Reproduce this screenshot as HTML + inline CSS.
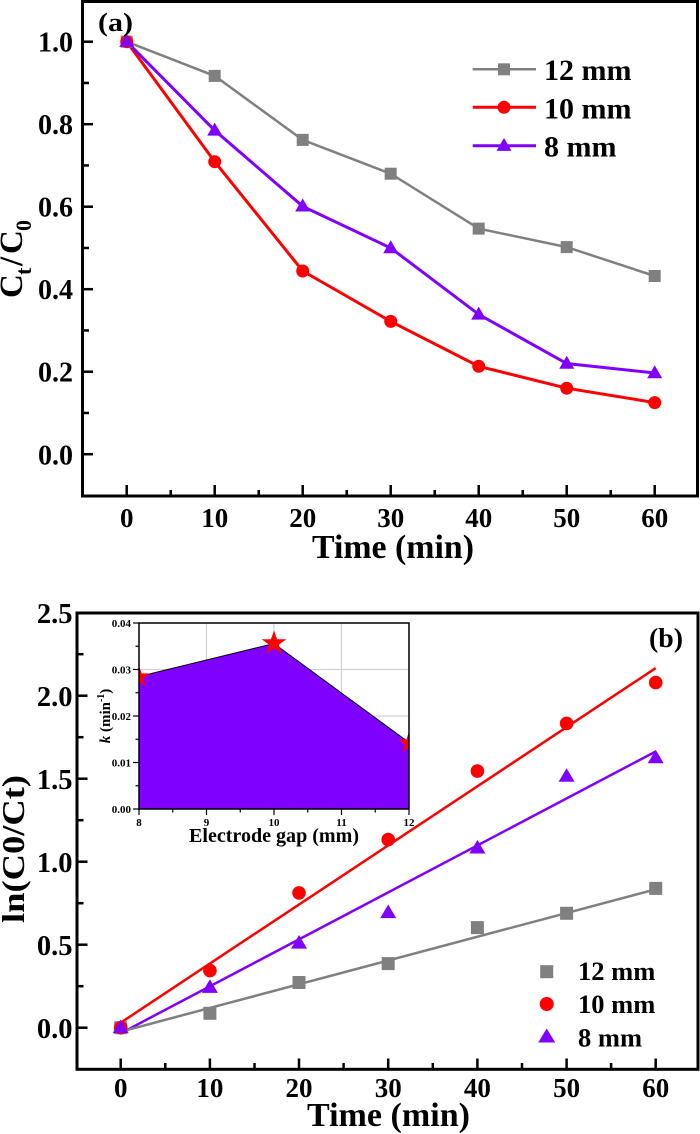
<!DOCTYPE html>
<html><head><meta charset="utf-8"><style>
html,body{margin:0;padding:0;background:#fff;}
svg{display:block;}
text{font-family:"Liberation Serif","Times New Roman",serif;font-weight:bold;fill:#000;}
</style></head><body>
<svg width="700" height="1134" viewBox="0 0 700 1134" xmlns="http://www.w3.org/2000/svg">
<defs>
<clipPath id="insetClip"><rect x="139" y="623" width="270" height="186"/></clipPath>
</defs>

<!-- ============ TOP CHART (a) ============ -->
<g>
<polyline fill="none" stroke="#808080" stroke-width="2.5" points="126.7,41.7 214.7,75.9 302.7,139.9 390.7,173.7 478.7,228.6 566.7,247.1 654.7,276.0"/>
<polyline fill="none" stroke="#FF0000" stroke-width="3" points="126.7,41.7 214.7,161.7 302.7,271.0 390.7,321.4 478.7,366.3 566.7,388.2 654.7,402.6"/>
<polyline fill="none" stroke="#8000FF" stroke-width="3" points="126.7,41.7 214.7,130.4 302.7,206.3 390.7,248.0 478.7,314.4 566.7,363.5 654.7,373.0"/>
<g fill="#808080">
<rect x="120.7" y="35.7" width="12" height="12"/>
<rect x="208.7" y="69.9" width="12" height="12"/>
<rect x="296.7" y="133.9" width="12" height="12"/>
<rect x="384.7" y="167.7" width="12" height="12"/>
<rect x="472.7" y="222.6" width="12" height="12"/>
<rect x="560.7" y="241.1" width="12" height="12"/>
<rect x="648.7" y="270.0" width="12" height="12"/>
</g>
<g fill="#FF0000">
<circle cx="126.7" cy="41.7" r="6.5"/>
<circle cx="214.7" cy="161.7" r="6.5"/>
<circle cx="302.7" cy="271.0" r="6.5"/>
<circle cx="390.7" cy="321.4" r="6.5"/>
<circle cx="478.7" cy="366.3" r="6.5"/>
<circle cx="566.7" cy="388.2" r="6.5"/>
<circle cx="654.7" cy="402.6" r="6.5"/>
</g>
<g fill="#8000FF">
<polygon points="126.7,33.9 119.2,46.9 134.2,46.9"/>
<polygon points="214.7,122.6 207.2,135.6 222.2,135.6"/>
<polygon points="302.7,198.5 295.2,211.5 310.2,211.5"/>
<polygon points="390.7,240.2 383.2,253.2 398.2,253.2"/>
<polygon points="478.7,306.6 471.2,319.6 486.2,319.6"/>
<polygon points="566.7,355.7 559.2,368.7 574.2,368.7"/>
<polygon points="654.7,365.2 647.2,378.2 662.2,378.2"/>
</g>

<rect x="82.5" y="1.5" width="615" height="494.5" fill="none" stroke="#000" stroke-width="3"/>
<g stroke="#000" stroke-width="2.5">
<line x1="82.5" y1="41.7" x2="93" y2="41.7"/>
<line x1="82.5" y1="124.2" x2="93" y2="124.2"/>
<line x1="82.5" y1="206.7" x2="93" y2="206.7"/>
<line x1="82.5" y1="289.2" x2="93" y2="289.2"/>
<line x1="82.5" y1="371.7" x2="93" y2="371.7"/>
<line x1="82.5" y1="454.2" x2="93" y2="454.2"/>
<line x1="82.5" y1="82.95" x2="89" y2="82.95"/>
<line x1="82.5" y1="165.45" x2="89" y2="165.45"/>
<line x1="82.5" y1="247.95" x2="89" y2="247.95"/>
<line x1="82.5" y1="330.45" x2="89" y2="330.45"/>
<line x1="82.5" y1="412.95" x2="89" y2="412.95"/>
<line x1="126.7" y1="496" x2="126.7" y2="485"/>
<line x1="214.7" y1="496" x2="214.7" y2="485"/>
<line x1="302.7" y1="496" x2="302.7" y2="485"/>
<line x1="390.7" y1="496" x2="390.7" y2="485"/>
<line x1="478.7" y1="496" x2="478.7" y2="485"/>
<line x1="566.7" y1="496" x2="566.7" y2="485"/>
<line x1="654.7" y1="496" x2="654.7" y2="485"/>
<line x1="170.7" y1="496" x2="170.7" y2="490"/>
<line x1="258.7" y1="496" x2="258.7" y2="490"/>
<line x1="346.7" y1="496" x2="346.7" y2="490"/>
<line x1="434.7" y1="496" x2="434.7" y2="490"/>
<line x1="522.7" y1="496" x2="522.7" y2="490"/>
<line x1="610.7" y1="496" x2="610.7" y2="490"/>
</g>
<g font-size="28" text-anchor="end">
<text x="73" y="51.7">1.0</text>
<text x="73" y="134.2">0.8</text>
<text x="73" y="216.7">0.6</text>
<text x="73" y="299.2">0.4</text>
<text x="73" y="381.7">0.2</text>
<text x="73" y="464.5">0.0</text>
</g>
<g font-size="27" text-anchor="middle">
<text x="126.7" y="527">0</text>
<text x="214.7" y="527">10</text>
<text x="302.7" y="527">20</text>
<text x="390.7" y="527">30</text>
<text x="478.7" y="527">40</text>
<text x="566.7" y="527">50</text>
<text x="654.7" y="527">60</text>
</g>
<text x="312" y="558" font-size="34" textLength="162" lengthAdjust="spacingAndGlyphs">Time (min)</text>
<g transform="translate(22,298) rotate(-90)">
<text x="0" y="0" font-size="33">C</text>
<text x="23" y="9" font-size="22">t</text>
<text x="32" y="0" font-size="33">/</text>
<text x="44" y="0" font-size="33">C</text>
<text x="67" y="9" font-size="22">0</text>
</g>
<text x="98" y="31" font-size="26" textLength="35" lengthAdjust="spacingAndGlyphs">(a)</text>
<g>
<line x1="472.7" y1="69.3" x2="536" y2="69.3" stroke="#808080" stroke-width="2.5"/>
<rect x="498" y="63.3" width="12" height="12" fill="#808080"/>
<line x1="472.7" y1="107.3" x2="536" y2="107.3" stroke="#FF0000" stroke-width="3"/>
<circle cx="504" cy="107.3" r="6.5" fill="#FF0000"/>
<line x1="472.7" y1="145.7" x2="536" y2="145.7" stroke="#8000FF" stroke-width="3"/>
<polygon points="504,137.9 496.5,150.9 511.5,150.9" fill="#8000FF"/>
<g font-size="30">
<text x="544" y="80">12 mm</text>
<text x="544" y="118.3">10 mm</text>
<text x="544" y="156.7">8 mm</text>
</g>
</g>
</g>

<!-- ============ BOTTOM CHART (b) ============ -->
<g>
<line x1="120.7" y1="1022.7" x2="655.7" y2="668.1" stroke="#FF0000" stroke-width="2.5"/>
<line x1="120.7" y1="1033.3" x2="655.7" y2="751.5" stroke="#8000FF" stroke-width="2.5"/>
<line x1="120.7" y1="1031.7" x2="655.7" y2="889.3" stroke="#808080" stroke-width="2.5"/>
<g fill="#808080">
<rect x="114.2" y="1021.2" width="13" height="13"/>
<rect x="203.4" y="1006.8" width="13" height="13"/>
<rect x="292.5" y="976.0" width="13" height="13"/>
<rect x="381.7" y="957.1" width="13" height="13"/>
<rect x="470.9" y="921.1" width="13" height="13"/>
<rect x="560.1" y="906.8" width="13" height="13"/>
<rect x="649.2" y="881.9" width="13" height="13"/>
</g>
<g fill="#FF0000">
<circle cx="120.7" cy="1027.7" r="6.8"/>
<circle cx="209.9" cy="970.6" r="6.8"/>
<circle cx="299.0" cy="892.9" r="6.8"/>
<circle cx="388.2" cy="839.6" r="6.8"/>
<circle cx="477.4" cy="771.1" r="6.8"/>
<circle cx="566.6" cy="723.4" r="6.8"/>
<circle cx="655.7" cy="682.6" r="6.8"/>
</g>
<g fill="#8000FF">
<polygon points="120.7,1019.5 112.7,1033.1 128.7,1033.1"/>
<polygon points="209.9,979.3 201.9,992.9 217.9,992.9"/>
<polygon points="299.0,935.0 291.0,948.6 307.0,948.6"/>
<polygon points="388.2,904.5 380.2,918.1 396.2,918.1"/>
<polygon points="477.4,839.9 469.4,853.5 485.4,853.5"/>
<polygon points="566.6,768.2 558.6,781.8 574.6,781.8"/>
<polygon points="655.7,749.7 647.7,763.3 663.7,763.3"/>
</g>

<rect x="77" y="613" width="621" height="456.3" fill="none" stroke="#000" stroke-width="3"/>
<g stroke="#000" stroke-width="2.5">
<line x1="77" y1="1027.7" x2="87.5" y2="1027.7"/>
<line x1="77" y1="944.7" x2="87.5" y2="944.7"/>
<line x1="77" y1="861.7" x2="87.5" y2="861.7"/>
<line x1="77" y1="778.7" x2="87.5" y2="778.7"/>
<line x1="77" y1="695.7" x2="87.5" y2="695.7"/>
<line x1="77" y1="986.2" x2="83.5" y2="986.2"/>
<line x1="77" y1="903.2" x2="83.5" y2="903.2"/>
<line x1="77" y1="820.2" x2="83.5" y2="820.2"/>
<line x1="77" y1="737.2" x2="83.5" y2="737.2"/>
<line x1="77" y1="654.2" x2="83.5" y2="654.2"/>
<line x1="120.7" y1="1069.3" x2="120.7" y2="1058.5"/>
<line x1="209.9" y1="1069.3" x2="209.9" y2="1058.5"/>
<line x1="299.0" y1="1069.3" x2="299.0" y2="1058.5"/>
<line x1="388.2" y1="1069.3" x2="388.2" y2="1058.5"/>
<line x1="477.4" y1="1069.3" x2="477.4" y2="1058.5"/>
<line x1="566.6" y1="1069.3" x2="566.6" y2="1058.5"/>
<line x1="655.7" y1="1069.3" x2="655.7" y2="1058.5"/>
<line x1="165.3" y1="1069.3" x2="165.3" y2="1063"/>
<line x1="254.5" y1="1069.3" x2="254.5" y2="1063"/>
<line x1="343.6" y1="1069.3" x2="343.6" y2="1063"/>
<line x1="432.8" y1="1069.3" x2="432.8" y2="1063"/>
<line x1="522.0" y1="1069.3" x2="522.0" y2="1063"/>
<line x1="611.1" y1="1069.3" x2="611.1" y2="1063"/>
</g>
<g font-size="28.5" text-anchor="end">
<text x="72.5" y="623">2.5</text>
<text x="72.5" y="706">2.0</text>
<text x="72.5" y="789">1.5</text>
<text x="72.5" y="872">1.0</text>
<text x="72.5" y="955">0.5</text>
<text x="72.5" y="1038">0.0</text>
</g>
<g font-size="27" text-anchor="middle">
<text x="120.7" y="1097">0</text>
<text x="209.9" y="1097">10</text>
<text x="299.0" y="1097">20</text>
<text x="388.2" y="1097">30</text>
<text x="477.4" y="1097">40</text>
<text x="566.6" y="1097">50</text>
<text x="655.7" y="1097">60</text>
</g>
<text x="307" y="1126" font-size="34" textLength="163" lengthAdjust="spacingAndGlyphs">Time (min)</text>
<text transform="translate(24,923) rotate(-90)" font-size="32" textLength="148" lengthAdjust="spacingAndGlyphs">ln(C0/Ct)</text>
<text x="649" y="647" font-size="27" textLength="34" lengthAdjust="spacingAndGlyphs">(b)</text>

<rect x="540.2" y="965.2" width="13" height="13" fill="#808080"/>
<circle cx="546.7" cy="1004" r="7" fill="#FF0000"/>
<polygon points="546.7,1028.5 538.2,1042.5 555.2,1042.5" fill="#8000FF"/>
<g font-size="26.5">
<text x="578" y="980">12 mm</text>
<text x="578" y="1013">10 mm</text>
<text x="578" y="1046.5">8 mm</text>
</g>

<!-- ============ INSET ============ -->
<rect x="139" y="623" width="270" height="186" fill="#fff"/>
<g stroke="#d0d0d0" stroke-width="1.2">
<line x1="206.5" y1="623" x2="206.5" y2="809"/>
<line x1="274" y1="623" x2="274" y2="809"/>
<line x1="341.5" y1="623" x2="341.5" y2="809"/>
<line x1="139" y1="669.5" x2="409" y2="669.5"/>
<line x1="139" y1="716" x2="409" y2="716"/>
<line x1="139" y1="762.5" x2="409" y2="762.5"/>
</g>
<polygon points="139,809 139,676.5 274,643.5 409,742.5 409,809" fill="#8000FF" stroke="#000" stroke-width="1"/>
<g clip-path="url(#insetClip)" fill="#FF0000">
<polygon points="139,665.5 141.6,673.4 149.9,673.4 143.2,678.3 145.7,686.2 139,681.3 132.3,686.2 134.8,678.3 128.1,673.4 136.4,673.4"/>
<polygon points="274,630.5 277.1,639.3 286.4,639.3 278.8,644.8 281.6,653.7 274,648.2 266.4,653.7 269.2,644.8 261.6,639.3 270.9,639.3"/>
<polygon points="409,731.5 411.6,739.4 419.9,739.4 413.2,744.3 415.7,752.2 409,747.3 402.3,752.2 404.8,744.3 398.1,739.4 406.4,739.4"/>
</g>
<rect x="139" y="623" width="270" height="186" fill="none" stroke="#000" stroke-width="1.5"/>
<g stroke="#000" stroke-width="1.2">
<line x1="133" y1="623" x2="139" y2="623"/>
<line x1="133" y1="669.5" x2="139" y2="669.5"/>
<line x1="133" y1="716" x2="139" y2="716"/>
<line x1="133" y1="762.5" x2="139" y2="762.5"/>
<line x1="133" y1="809" x2="139" y2="809"/>
<line x1="135.5" y1="646.25" x2="139" y2="646.25"/>
<line x1="135.5" y1="692.75" x2="139" y2="692.75"/>
<line x1="135.5" y1="739.25" x2="139" y2="739.25"/>
<line x1="135.5" y1="785.75" x2="139" y2="785.75"/>
<line x1="139" y1="809" x2="139" y2="815"/>
<line x1="206.5" y1="809" x2="206.5" y2="815"/>
<line x1="274" y1="809" x2="274" y2="815"/>
<line x1="341.5" y1="809" x2="341.5" y2="815"/>
<line x1="409" y1="809" x2="409" y2="815"/>
<line x1="172.75" y1="809" x2="172.75" y2="812.5"/>
<line x1="240.25" y1="809" x2="240.25" y2="812.5"/>
<line x1="307.75" y1="809" x2="307.75" y2="812.5"/>
<line x1="375.25" y1="809" x2="375.25" y2="812.5"/>
</g>
<g font-size="11" text-anchor="end">
<text x="131" y="627">0.04</text>
<text x="131" y="673.5">0.03</text>
<text x="131" y="720">0.02</text>
<text x="131" y="766.5">0.01</text>
<text x="131" y="813">0.00</text>
</g>
<g font-size="11" text-anchor="middle">
<text x="139" y="826">8</text>
<text x="206.5" y="826">9</text>
<text x="274" y="826">10</text>
<text x="341.5" y="826">11</text>
<text x="409" y="826">12</text>
</g>
<text x="274" y="842" font-size="20" text-anchor="middle" textLength="170" lengthAdjust="spacingAndGlyphs">Electrode gap (mm)</text>
<text transform="translate(110,716) rotate(-90)" font-size="15" text-anchor="middle"><tspan font-style="italic">k</tspan> (min<tspan font-size="10" dy="-6">-1</tspan><tspan dy="6">)</tspan></text>
</g>
</svg>
</body></html>
